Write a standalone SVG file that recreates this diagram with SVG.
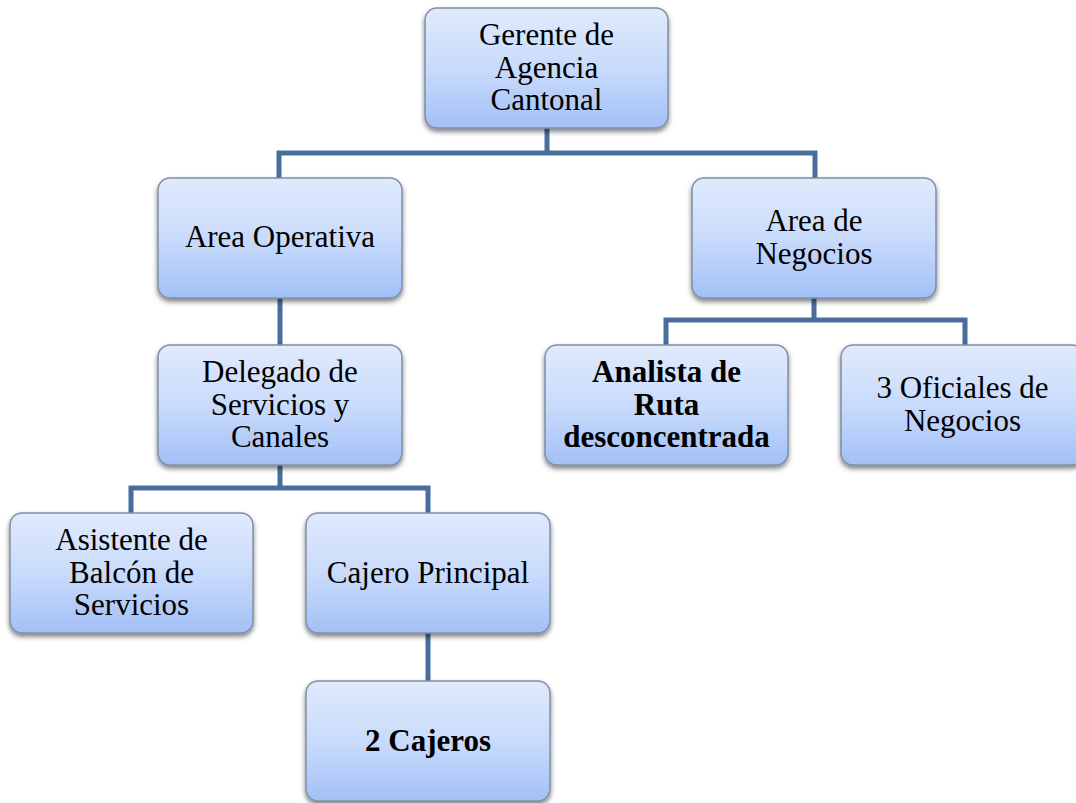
<svg xmlns="http://www.w3.org/2000/svg" width="1076" height="803" viewBox="0 0 1076 803">
<defs>
<linearGradient id="g" x1="0" y1="0" x2="0" y2="1">
<stop offset="0" stop-color="#e0eafc"/>
<stop offset="0.5" stop-color="#c9dbfb"/>
<stop offset="1" stop-color="#a2c0f7"/>
</linearGradient>
<filter id="sh" x="-10%" y="-10%" width="120%" height="130%">
<feDropShadow dx="0" dy="3" stdDeviation="2.5" flood-color="#000" flood-opacity="0.5"/>
</filter>
</defs>
<style>
.box{fill:url(#g);stroke:#7f8ea6;stroke-width:1.5;filter:url(#sh)}
.t{font-family:"Liberation Serif","Times New Roman",serif;font-size:31px;fill:#000;text-anchor:middle}
.b{font-weight:bold}
.c{fill:none;stroke:#4a6e9c;stroke-width:5;stroke-linejoin:miter;stroke-linecap:butt}
</style>
<rect width="1076" height="803" fill="#ffffff"/>
<g id="connectors">
<path class="c" d="M547 128V153M279 178V153H815V178"/>
<path class="c" d="M280 298V345"/>
<path class="c" d="M814 298V320M666 345V320H965V345"/>
<path class="c" d="M280 465V488M131 513V488H428V513"/>
<path class="c" d="M428 633V681"/>
</g>
<g id="gerente">
<rect class="box" x="425" y="8" width="243" height="120" rx="12"/>
<text class="t" x="546.5" y="45">Gerente de</text>
<text class="t" x="546.5" y="78">Agencia</text>
<text class="t" x="546.5" y="110">Cantonal</text>
</g>
<g id="area-operativa">
<rect class="box" x="158" y="178" width="244" height="120" rx="12"/>
<text class="t" x="280" y="247">Area Operativa</text>
</g>
<g id="area-negocios">
<rect class="box" x="692" y="178" width="244" height="120" rx="12"/>
<text class="t" x="814" y="231">Area de</text>
<text class="t" x="814" y="264">Negocios</text>
</g>
<g id="delegado">
<rect class="box" x="158" y="345" width="244" height="120" rx="12"/>
<text class="t" x="280" y="382">Delegado de</text>
<text class="t" x="280" y="415">Servicios y</text>
<text class="t" x="280" y="447">Canales</text>
</g>
<g id="analista">
<rect class="box" x="545" y="345" width="243" height="120" rx="12"/>
<text class="t b" x="666.5" y="382">Analista de</text>
<text class="t b" x="666.5" y="415">Ruta</text>
<text class="t b" x="666.5" y="447">desconcentrada</text>
</g>
<g id="oficiales">
<rect class="box" x="841" y="345" width="243" height="120" rx="12"/>
<text class="t" x="962.5" y="398">3 Oficiales de</text>
<text class="t" x="962.5" y="431">Negocios</text>
</g>
<g id="asistente">
<rect class="box" x="10" y="513" width="243" height="120" rx="12"/>
<text class="t" x="131.5" y="550">Asistente de</text>
<text class="t" x="131.5" y="583">Balcón de</text>
<text class="t" x="131.5" y="615">Servicios</text>
</g>
<g id="cajero-principal">
<rect class="box" x="306" y="513" width="244" height="120" rx="12"/>
<text class="t" x="428" y="583">Cajero Principal</text>
</g>
<g id="cajeros">
<rect class="box" x="306" y="681" width="244" height="120" rx="12"/>
<text class="t b" x="428" y="751">2 Cajeros</text>
</g>
</svg>
